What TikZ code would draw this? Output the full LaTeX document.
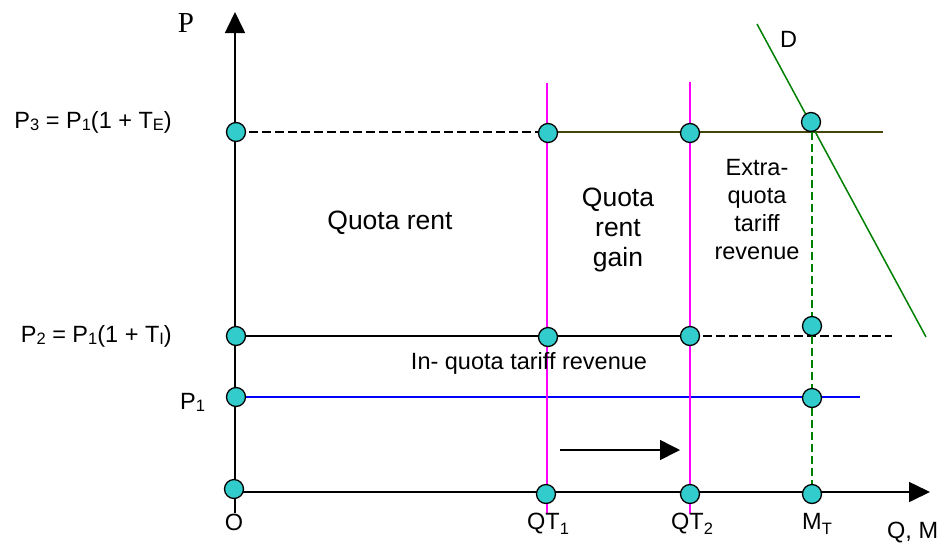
\documentclass[tikz,border=0pt]{standalone}
\usepackage{fontspec}
\setmainfont{Liberation Sans}
\newfontfamily\seriffont{Liberation Serif}
\usetikzlibrary{arrows.meta}
\definecolor{dotfill}{RGB}{51,204,204}
\definecolor{oliveline}{RGB}{70,70,10}
\definecolor{dgreen}{RGB}{0,128,0}
\definecolor{mag}{RGB}{255,0,255}
\newcommand\mysub[2][0.12em]{\raisebox{-#1}{\fontsize{16.5}{16.5}\selectfont #2}}
\begin{document}
\begin{tikzpicture}[x=1pt,y=-1pt,
  dot/.style={circle,draw=black,line width=1.3pt,fill=dotfill,minimum size=19pt,inner sep=0pt},
  lbl/.style={font=\fontsize{23.5}{28}\selectfont,inner sep=0pt},
  biglbl/.style={font=\fontsize{26.5}{30}\selectfont,inner sep=0pt},
  axisline/.style={line width=1.6pt,black},
  bigtip/.style={-{Triangle[length=21pt,width=20pt]}},
  dashline/.style={line width=1.4pt,black,dash pattern=on 9pt off 4pt},
  solidline/.style={line width=1.4pt},
  quotaline/.style={line width=1.5pt,mag}
]
\useasboundingbox (0,0) rectangle (942,542);

% coordinates
\coordinate (yB) at (235,513);
\coordinate (yT) at (235,12);
\coordinate (xL) at (235,492);
\coordinate (xR) at (930,492);
\coordinate (p3end) at (883,132);
\coordinate (p2end) at (892,336);
\coordinate (p1end) at (860,397);
\coordinate (q1T) at (547,83);
\coordinate (q1B) at (547,514);
\coordinate (q2T) at (690,82);
\coordinate (q2B) at (690,514);
\coordinate (mT) at (812,132);
\coordinate (mB) at (812,494);
\coordinate (dT) at (757,24);
\coordinate (dB) at (926,337);
\coordinate (arA) at (560,450);
\coordinate (arB) at (680,450);

% axes
\draw[axisline,bigtip] (yB) -- (yT);
\draw[axisline,bigtip] (xL) -- (xR);

% horizontal lines
\draw[dashline] (236,132) -- (548,132);
\draw[solidline,oliveline] (548,132) -- (p3end);
\draw[solidline,black] (236,336) -- (690,336);
\draw[dashline] (690,336) -- (p2end);
\draw[solidline,blue] (236,397) -- (p1end);

% quota lines
\draw[quotaline] (q1T) -- (q1B);
\draw[quotaline] (q2T) -- (q2B);

% M_T dashed
\draw[line width=1.4pt,dgreen,dash pattern=on 8pt off 4pt] (mT) -- (mB);

% demand
\draw[line width=1.5pt,dgreen] (dT) -- (dB);

% shift arrow
\draw[line width=1.6pt,black,-{Triangle[length=20pt,width=20pt]}] (arA) -- (arB);

% dots
\node[dot] (p3) at (236,132) {};
\node[dot] (a3) at (548,133) {};
\node[dot] (b3) at (690,133) {};
\node[dot] (d3) at (811,122) {};
\node[dot] (p2) at (236,336) {};
\node[dot] (a2) at (548,337) {};
\node[dot] (b2) at (690,336) {};
\node[dot] (d2) at (812,326) {};
\node[dot] (p1) at (236,397) {};
\node[dot] (d1) at (812,398) {};
\node[dot] (o) at (234,489) {};
\node[dot] (q1) at (546,494) {};
\node[dot] (q2) at (690,494) {};
\node[dot] (m) at (812,494) {};

% labels
\node[inner sep=0pt,font=\seriffont\fontsize{29}{30}\selectfont] (Plab) at (186,23) {P};
\node[lbl,anchor=base west] (Dlab) at (780,47) {D};
\node[lbl,anchor=base east] (p3lab) at (172,128) {P\mysub{3} = P\mysub{1}(1 + T\mysub{E})};
\node[lbl,anchor=base east] (p2lab) at (172,342) {P\mysub{2} = P\mysub{1}(1 + T\mysub{I})};
\node[lbl,anchor=base west] (p1lab) at (180,409) {P\mysub{1}};
\node[lbl,anchor=base] (olab) at (234,530) {O};
\node[lbl,anchor=base west] (q1lab) at (527,529) {QT\mysub[0.25em]{1}};
\node[lbl,anchor=base west] (q2lab) at (671,529) {QT\mysub[0.25em]{2}};
\node[lbl,anchor=base west] (mlab) at (802,529) {M\mysub[0.25em]{T}};
\node[lbl,anchor=base west] (qmlab) at (887,538) {Q, M};

\node[biglbl] (qr) at (390,223) {Quota rent};
\node[biglbl,align=center] (qrg) at (618,230) {Quota\\rent\\gain};
\node[lbl,align=center,font=\fontsize{23.5}{28}\selectfont] (eqt) at (757,210) {Extra-\\quota\\tariff\\revenue};
\node[lbl] (iqt) at (529,363) {In- quota tariff revenue};
\end{tikzpicture}
\end{document}
